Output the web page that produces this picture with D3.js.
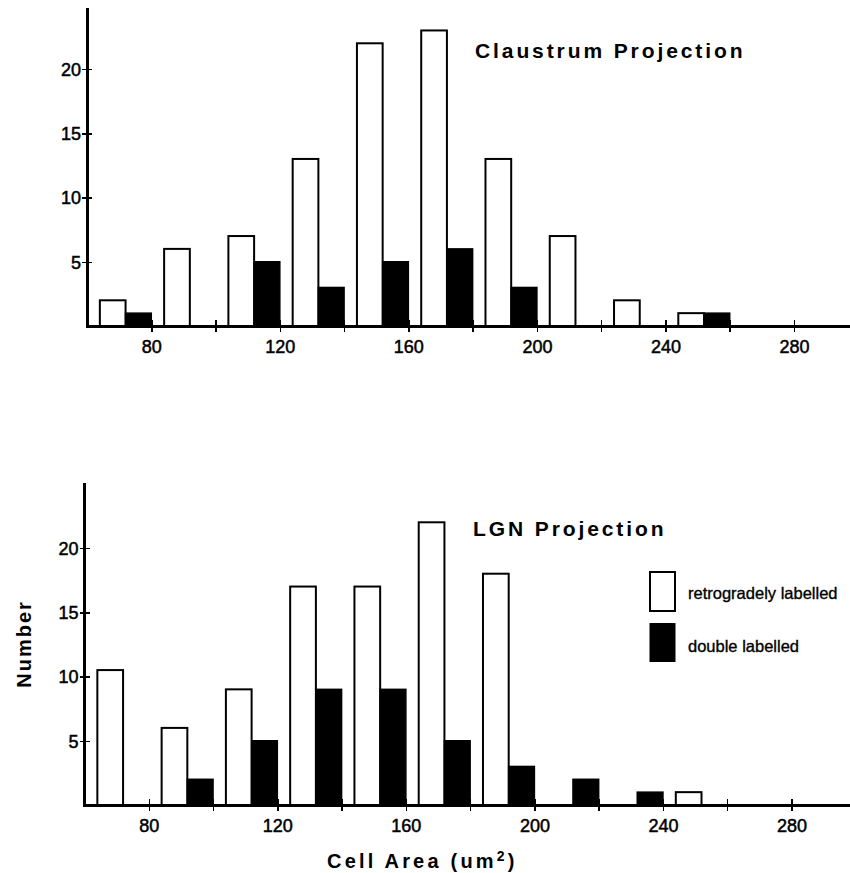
<!DOCTYPE html>
<html>
<head>
<meta charset="utf-8">
<script src="https://cdn.jsdelivr.net/npm/d3@7"></script>
<style>
  body { margin: 0; background: #fff; }
  .tickText { font-family: "Liberation Sans", Arial, sans-serif; font-size: 18px; fill: #000; stroke: #000; stroke-width: 0.5px; }
  .title { font-family: "Liberation Sans", Arial, sans-serif; font-size: 21px; font-weight: bold; letter-spacing: 2.9px; }
  .aText { font-family: "Liberation Sans", Arial, sans-serif; font-size: 20px; font-weight: bold; letter-spacing: 3.2px; }
  .legendText { font-family: "Liberation Sans", Arial, sans-serif; font-size: 16.5px; fill: #000; stroke: #000; stroke-width: 0.35px; }
</style>
</head>
<body>
<div id="chart"></div>
<script>

// Data (bins of 20 um2 starting at 60)
var binStarts = [60, 80, 100, 120, 140, 160, 180, 200, 220, 240, 260, 280];
var claustrumRetro = [2, 6, 7, 13, 22, 23, 13, 7, 2, 1, 0, 0];
var claustrumDouble = [1, 0, 5, 3, 5, 6, 3, 0, 0, 1, 0, 0];
var lgnRetro = [10.5, 6, 9, 17, 17, 22, 18, 0, 0, 1, 0, 0];
var lgnDouble = [0, 2, 5, 9, 9, 5, 3, 2, 1, 0, 0, 0];

var yTicks = [5, 10, 15, 20];
var xTicks = [80, 100, 120, 140, 160, 180, 200, 220, 240, 260, 280];
var legendLabels = ["retrogradely labelled", "double labelled"];

var svgWidth = 850;
var svgHeight = 873;

var svg = d3.select("#chart")
  .append("svg")
  .attr("width", svgWidth)
  .attr("height", svgHeight);

// one panel: axis left edge, baseline and axis top in pixels
function drawPanel(opts) {
  var x = d3.scaleLinear()
    .domain([60, 298])
    .range([opts.left, opts.left + 238 * 3.2136]);

  var y = d3.scaleLinear()
    .domain([0, 20])
    .range([opts.base, opts.base - 20 * 12.85]);

  var g = svg.append("g");

  // bars: open bar sits at bin+4..bin+12, black bar at bin+12..bin+20
  var rows = binStarts.map(function(b, i) {
    return { bin: b, retro: opts.retro[i], dbl: opts.dbl[i] };
  });

  g.selectAll("rect.retro")
    .data(rows.filter(d => d.retro > 0))
    .enter()
    .append("rect")
    .attr("class", "retro")
    .attr("x", d => x(d.bin + 4))
    .attr("width", d => x(d.bin + 12) - x(d.bin + 4))
    .attr("y", d => y(d.retro))
    .attr("height", d => y(0) - y(d.retro))
    .attr("fill", "#fff")
    .attr("stroke", "#000")
    .attr("stroke-width", 2);

  g.selectAll("rect.dbl")
    .data(rows.filter(d => d.dbl > 0))
    .enter()
    .append("rect")
    .attr("class", "dbl")
    .attr("x", d => x(d.bin + 12))
    .attr("width", d => x(d.bin + 20) - x(d.bin + 12))
    .attr("y", d => y(d.dbl))
    .attr("height", d => y(0) - y(d.dbl))
    .attr("fill", "#000")
    .attr("stroke", "#000")
    .attr("stroke-width", 1.5);

  // axes
  var bottomAxis = d3.axisBottom(x)
    .tickValues(xTicks)
    .tickSizeOuter(0)
    .tickFormat(d => d % 40 === 0 ? d : "");

  var leftAxis = d3.axisLeft(y)
    .tickValues(yTicks)
    .tickSizeOuter(0);

  var xg = g.append("g")
    .attr("transform", `translate(0, ${y(0)})`)
    .call(bottomAxis);
  xg.select(".domain").attr("stroke-width", 3);
  xg.selectAll(".tick line").attr("y1", -6).attr("y2", 6).attr("stroke-width", 1.5);
  xg.selectAll(".tick text")
    .attr("class", "tickText")
    .attr("y", 26.5)
    .attr("dy", 0);

  var yg = g.append("g")
    .attr("transform", `translate(${x(60)}, 0)`)
    .call(leftAxis.tickSize(0));
  yg.select(".domain").remove();
  yg.append("line")
    .attr("y1", y(0) + 1.5)
    .attr("y2", opts.top)
    .attr("stroke", "#000")
    .attr("stroke-width", 3);
  yg.selectAll(".tick").append("line")
    .attr("x1", -5).attr("x2", 5)
    .attr("stroke", "#000")
    .attr("stroke-width", 1.5);
  yg.selectAll(".tick text")
    .attr("class", "tickText")
    .attr("x", -6)
    .attr("dy", "0.36em");

  g.selectAll("path, line").attr("shape-rendering", "crispEdges");

  // panel title
  g.append("text")
    .attr("class", "title")
    .attr("x", opts.titleX)
    .attr("y", opts.titleY)
    .text(opts.title);

  return { x: x, y: y };
}

drawPanel({
  left: 87, base: 326, top: 8,
  retro: claustrumRetro, dbl: claustrumDouble,
  title: "Claustrum Projection", titleX: 475, titleY: 58
});

drawPanel({
  left: 84.5, base: 805, top: 483,
  retro: lgnRetro, dbl: lgnDouble,
  title: "LGN Projection", titleX: 473, titleY: 536
});

// legend
var legend = svg.append("g");
legend.append("rect")
  .attr("x", 650).attr("y", 572).attr("width", 25).attr("height", 39)
  .attr("fill", "#fff").attr("stroke", "#000").attr("stroke-width", 2);
legend.append("rect")
  .attr("x", 649.5).attr("y", 623).attr("width", 26).attr("height", 39)
  .attr("fill", "#000");
legend.selectAll("text")
  .data(legendLabels)
  .enter()
  .append("text")
  .attr("class", "legendText")
  .attr("x", 688)
  .attr("y", (d, i) => 599 + i * 53)
  .text(d => d);

// axis labels
var xLabel = svg.append("text")
  .attr("class", "aText")
  .attr("x", 327)
  .attr("y", 868);
xLabel.append("tspan").text("Cell Area (um");
xLabel.append("tspan").attr("dy", -7).attr("font-size", "14px").text("2");
xLabel.append("tspan").attr("dy", 7).text(")");

svg.append("text")
  .attr("class", "aText")
  .attr("transform", "rotate(-90)")
  .attr("x", -644)
  .attr("y", 31)
  .attr("text-anchor", "middle")
  .style("letter-spacing", "2px")
  .text("Number");

</script>
</body>
</html>
